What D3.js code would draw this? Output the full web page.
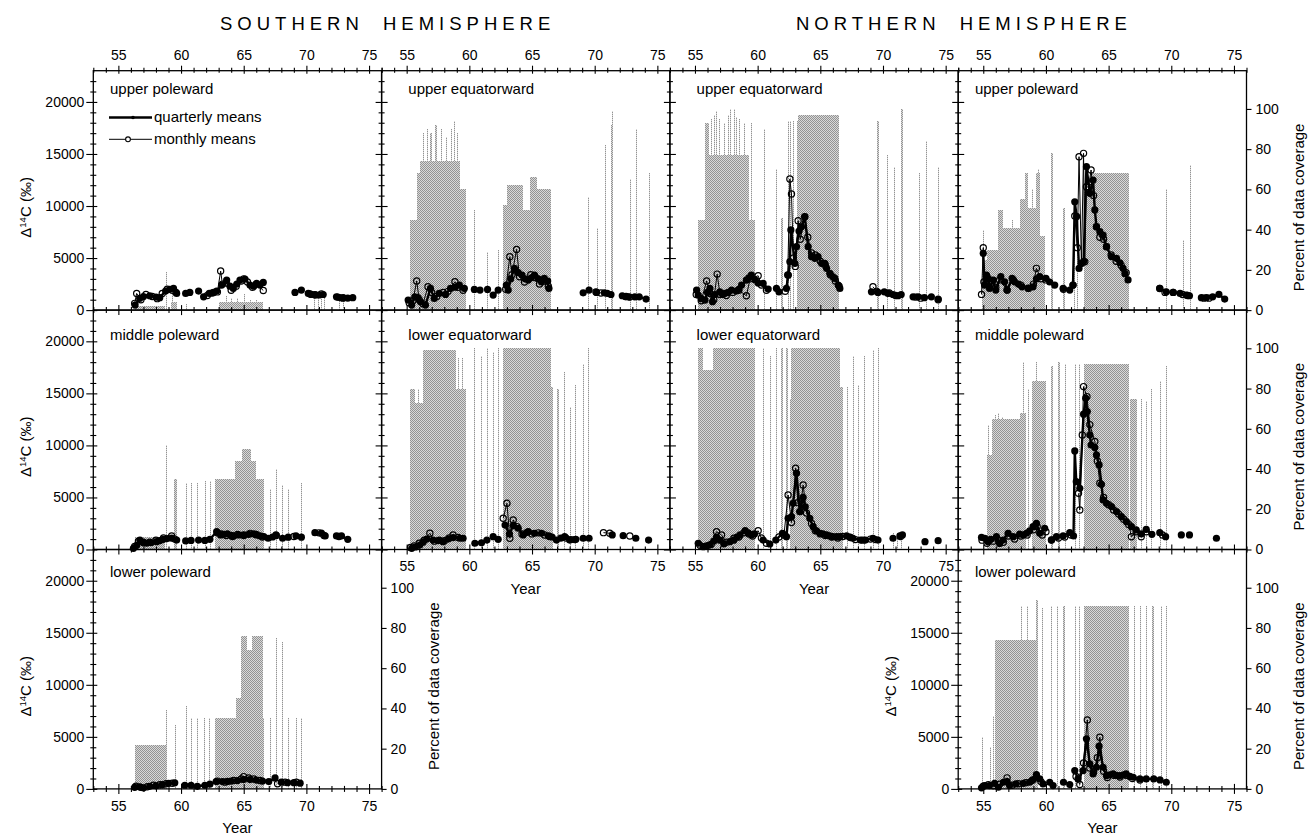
<!DOCTYPE html>
<html>
<head>
<meta charset="utf-8">
<script src="https://cdn.jsdelivr.net/npm/d3@7"></script>
<style>
  body { margin: 0; background: #fff; }
  svg text { font-family: "Liberation Sans", Arial, Helvetica, sans-serif; fill: #000; }
</style>
</head>
<body>
<svg id="chart" width="1308" height="835"></svg>
<script>
// ---- tick labels / text ----
const yearTicks = [55, 60, 65, 70, 75];
const valueTicks = [0, 5000, 10000, 15000, 20000];
const pctTicks = [0, 20, 40, 60, 80, 100];
const hemispheres = ['SOUTHERN HEMISPHERE', 'NORTHERN HEMISPHERE'];

// ---- data: [year, delta14C] (null = gap); coverage [from, to, %]; single months [year, %] ----
// SH upper poleward
const shUpPolQ = [[56.33,480],[56.7,1120],[57.0,1300],[57.5,1380],[58.0,1250],[58.3,1190],[58.77,1830],[59.1,2000],[59.4,2080],[59.65,1600],null,
  [60.37,1600],[60.7,1700],null,[61.4,1830],null,[61.8,1280],[62.25,1600],[62.6,1700],[62.84,1830],[63.24,2400],[63.64,2880],[63.9,2300],[64.17,2080],
  [64.45,2500],[64.7,2880],[65.1,2980],[65.5,2400],[65.8,2300],[66.03,2560],[66.3,2400],[66.56,2660],null,
  [69.09,1700],[69.6,1920],null,[70.15,1600],[70.4,1500],[70.68,1500],[71.0,1450],[71.34,1500],null,[72.4,1280],[72.65,1200],[72.94,1190],[73.3,1150],[73.7,1190]];
const shUpPolM = [[56.3,650],[56.46,1600],[56.8,1000],[57.2,1500],[57.7,1300],[58.1,1100],[58.5,1600],[58.9,2000],[59.3,1900],[59.6,1700],null,
  [62.1,1400],[62.5,1650],[62.9,1750],[63.16,3750],[63.3,2500],[63.6,2600],[64.0,1900],[64.4,2300],[64.8,2800],[65.0,3000],[65.3,2700],[65.7,2200],[66.0,2500],[66.56,1890],null,
  [70.3,1550],[70.7,1450],[71.2,1550],null,[72.5,1250],[72.9,1150]];
const shUpPolCov = [[56.3,58.7,2],[59.2,59.7,4],[63.0,66.5,4]];
const shUpPolSpk = [[58.8,19],[59.3,8],[60.4,3],[63.6,7],[64.0,6],[64.5,6],[65.0,8],[65.5,5],[66.0,5],[70.6,9],[70.9,9],[71.2,8],[71.4,9],[72.6,6],[72.9,6]];

// SH middle poleward
const shMidPolQ = [[56.2,115],[56.46,400],[56.72,910],[57.0,700],[57.26,600],[57.6,650],[58.05,750],[58.3,850],[58.58,980],[58.9,1050],[59.25,1100],[59.65,910],null,
  [60.37,820],[60.8,870],null,[61.4,910],[61.9,870],[62.3,980],[62.84,1710],[63.16,1400],[63.4,1450],[63.7,1500],[64.0,1350],[64.2,1300],[64.6,1400],[65.0,1400],
  [65.4,1450],[65.8,1500],[66.0,1400],[66.3,1300],[66.6,1250],[66.95,1080],[67.3,1200],[67.57,1400],null,[68.1,1080],[68.55,1180],null,[69.17,1300],[69.6,1180],null,
  [70.68,1620],[71.2,1570],[71.5,1300],null,[72.4,1300],[72.8,1300],[73.3,980]];
const shMidPolM = [[56.3,300],[56.6,800],[57.0,650],[57.5,700],[58.0,900],[58.6,1100],[59.25,1300],[59.5,1000],null,
  [62.9,1600],[63.2,1500],[63.6,1350],[64.1,1250],[64.5,1450],[65.0,1350],[65.5,1550],[66.0,1450],[66.5,1200],null,[67.6,1350],null,[69.0,1250],null,
  [71.0,1600],[71.4,1350],null,[72.6,1250]];
const shMidPolCov = [[56.3,58.7,6],[59.4,59.7,35],[62.7,64.3,35],[64.3,64.9,44],[64.9,65.6,50],[65.6,66.0,44],[66.0,66.6,35]];
const shMidPolSpk = [[58.8,52],[60.4,33],[60.8,33],[61.3,33],[61.9,34],[62.3,34],[67.1,30],[67.57,40],[68.05,32],[68.5,30],[69.6,33]];

// SH lower poleward
const shLowPolQ = [[56.3,150],[56.7,200],[57.0,100],[57.5,250],[58.0,300],[58.5,410],[59.0,540],[59.5,580],null,[60.3,350],[60.8,350],null,
  [61.3,250],[61.9,350],[62.3,450],[62.8,700],[63.3,700],[63.7,720],[64.0,750],[64.5,800],[65.0,900],[65.5,900],[66.0,850],[66.5,750],[67.0,700],[67.5,1050],null,
  [68.0,650],[68.5,600],null,[69.0,600],[69.5,550]];
const shLowPolM = [[56.4,250],[56.8,150],[57.3,200],[57.8,350],[58.3,400],[58.8,500],[59.3,550],null,
  [62.9,750],[63.5,650],[64.2,800],[64.8,950],[65.0,1180],[65.4,1050],[65.8,950],[66.3,800],null,[67.7,500],[68.3,650],null,[69.2,650]];
const shLowPolCov = [[56.3,58.8,22],[62.7,64.4,35],[64.4,64.8,45],[64.8,65.3,76],[65.3,65.7,69],[65.7,66.5,76],[66.5,66.6,35]];
const shLowPolSpk = [[58.8,39],[59.5,32],[60.4,41],[60.8,35],[61.3,35],[61.8,35],[62.2,35],[67.1,35],[67.55,75],[68.05,73],[68.5,35],[69.2,35],[69.6,35]];

// SH upper equatorward
const shUpEqQ = [[55.12,960],[55.4,480],[55.65,1280],[55.9,1200],[56.1,800],[56.5,480],[56.9,2080],[57.2,1120],[57.6,1600],[58.1,1500],[58.5,2080],[58.85,2200],
  [59.2,2400],[59.6,2080],null,[60.4,1990],[60.85,1920],null,[61.45,1990],null,[61.9,1440],[62.3,1920],null,[62.95,2400],[63.1,1920],[63.3,3000],[63.6,4000],
  [63.9,3600],[64.2,3370],[64.45,3000],[64.7,2880],[64.95,3100],[65.2,3370],[65.5,3000],[65.76,2720],[65.98,3040],[66.25,2790],[66.35,2080],null,
  [69.08,1660],[69.55,1920],null,[70.15,1700],null,[70.77,1660],[71.0,1600],[71.3,1500],null,[72.2,1380],[72.45,1300],[72.7,1280],[73.2,1280],[73.55,1280],[74.1,1060]];
const shUpEqM = [[55.2,700],[55.5,900],[55.8,2790],[56.0,1000],[56.3,600],[56.7,2240],[57.0,1700],[57.4,1300],[57.9,1700],[58.3,1800],[58.85,2720],[59.1,2200],[59.5,1900],null,
  [62.9,2000],[63.23,5130],[63.4,3400],[63.77,5830],[64.0,3200],[64.4,2700],[64.9,3400],[65.3,3100],[65.6,2500],[66.0,2800],[66.3,2300],null,
  [70.1,1750],[70.5,1650],null,[72.5,1300],[72.8,1250]];
const shUpEqCov = [[55.26,55.8,45],[55.8,56.05,68],[56.05,59.25,74],[59.25,59.7,60],[62.7,63.0,52],[63.0,64.3,62],[64.3,64.8,50],[64.8,65.4,66],[65.4,66.55,60]];
const shUpEqSpk = [[56.3,88],[56.6,90],[56.9,88],[57.3,92],[57.7,90],[58.1,86],[58.5,90],[58.77,94],[59.0,88],[60.4,50],[61.4,29],[62.3,30],
  [69.47,56],[70.2,41],[70.8,82],[71.3,92],[71.4,99],[72.8,65],[73.3,90],[74.3,68]];

// SH lower equatorward
const shLowEqQ = [[55.4,115],[55.7,250],[56.05,430],[56.3,700],[56.6,1000],[57.1,910],[57.5,850],[57.9,750],[58.3,1000],[58.7,1150],[59.25,1080],[59.5,1080],null,
  [60.44,600],[60.97,650],null,[61.4,910],null,[61.9,1230],[62.3,980],null,[62.85,2350],[63.2,1500],[63.5,2300],[63.9,2040],[64.3,1400],[64.7,1710],[65.2,1560],
  [65.76,1560],[66.3,1300],[66.6,1200],[66.95,910],[67.3,1100],[67.6,1230],[68.0,910],[68.5,980],null,[69.08,1080],[69.55,1080],null,[71.4,1400],null,
  [72.27,1330],null,[73.28,1080],null,[74.3,910]];
const shLowEqM = [[55.3,200],[55.6,350],[56.0,600],[56.4,900],[56.85,1560],[57.2,800],[57.6,900],[58.0,850],[58.4,1100],[58.7,1400],[59.1,1150],null,
  [62.7,3000],[63.0,4440],[63.23,1080],[63.5,2840],[63.8,2200],[64.2,1500],[64.6,1650],[65.0,1500],[65.5,1600],[66.0,1400],[66.4,1250],null,
  [67.7,1100],[68.1,950],[68.4,950],null,[70.7,1620],[71.2,1560],null,[72.8,1300]];
const shLowEqCov = [[55.26,55.65,80],[55.65,56.3,73],[56.3,58.9,99],[58.9,59.7,80],[62.7,66.55,100],[66.55,66.7,81]];
const shLowEqSpk = [[55.9,80],[59.1,95],[59.4,95],[60.4,100],[60.9,96],[61.4,100],[61.9,98],[62.3,100],[67.03,80],[67.56,88],[68.0,71],[68.45,82],[69.04,92],[69.5,100]];

// NH upper equatorward
const nhUpEqQ = [[55.13,1920],[55.26,1440],[55.5,1100],[55.8,960],[56.0,1700],[56.19,2080],[56.4,800],[56.6,1500],[56.98,1760],[57.2,1500],[57.39,1600],[57.65,1700],
  [57.92,1920],[58.3,1830],[58.5,2000],[58.72,2400],[59.1,2880],[59.3,3100],[59.5,3370],[59.8,2900],[60.04,2600],[60.44,2560],[60.84,2020],null,
  [61.5,2080],[61.7,1760],null,[62.3,2080],[62.45,3370],[62.57,4650],[62.65,7700],[62.97,4490],[63.1,6090],[63.3,7600],[63.5,8000],[63.76,8970],[64.03,6090],
  [64.3,5130],[64.56,4970],[64.82,5130],[65.1,4490],[65.36,4490],[65.5,4010],[65.76,3530],[66.0,3200],[66.16,3050],[66.43,2400],[66.56,2080],null,
  [69.08,1760],[69.6,1700],null,[70.1,1760],[70.4,1600],[70.8,1500],[71.2,1380],[71.45,1500],null,[72.4,1280],[72.8,1280],[73.3,1190],[73.86,1280],null,[74.4,1060]];
const nhUpEqM = [[55.1,1500],[55.5,900],[55.93,2790],[56.2,1600],[56.5,1000],[56.77,3460],[57.0,1500],[57.5,1400],[58.0,1700],[58.5,1900],[59.1,1380],[59.4,3000],
  [60.04,3300],[60.3,2400],[60.7,1900],null,[62.2,1800],[62.4,3370],[62.57,12600],[62.7,11150],[62.85,5000],[63.0,4200],[63.23,8590],[63.4,6800],[63.76,8970],
  [64.0,7000],[64.3,5500],[64.6,5300],[65.0,4700],[65.4,4300],[65.8,3400],[66.2,2800],[66.5,2300],null,[69.2,2240],[69.5,1800],null,
  [70.5,1650],[71.0,1400],null,[72.6,1250],[73.0,1150],null,[74.4,1000]];
const nhUpEqCov = [[55.26,55.8,45],[55.8,56.1,93],[56.1,59.3,77],[59.3,59.75,45],[63.2,66.5,97]];
const nhUpEqSpk = [[56.3,95],[56.5,97],[56.7,99],[56.9,95],[57.3,93],[57.6,97],[57.8,100],[58.1,100],[58.3,96],[58.5,95],[58.9,93],[59.5,93],[60.52,90],[61.5,70],
  [61.9,46],[62.4,94],[62.6,94],[62.8,94],[63.1,94],[69.56,94],[70.3,77],[70.9,71],[71.45,100],[71.55,100],[72.9,68],[73.4,84],[74.4,71]];

// NH lower equatorward
const nhLowEqQ = [[55.26,600],[55.66,270],[56.0,380],[56.19,430],[56.5,800],[56.72,1200],[57.0,900],[57.3,540],[57.78,750],[58.1,900],[58.35,1200],[58.6,1400],
  [59.0,1810],[59.25,1600],[59.5,1400],[59.75,1500],null,[60.44,910],[60.97,530],null,[61.45,910],[61.98,1560],[62.3,1230],[62.43,3000],[62.7,3150],[62.83,4440],
  [63.1,7330],[63.37,3640],[63.63,5000],[63.8,4100],[64.16,3000],[64.43,2190],[64.7,1800],[64.96,1560],[65.2,1500],[65.5,1400],[65.75,1300],[66.0,1230],
  [66.3,1230],[66.56,1230],[67.1,1300],[67.35,1200],[67.6,1080],[68.2,910],[68.6,910],[69.2,1080],[69.6,910],null,[70.8,1080],null,[71.35,1300],[71.55,1400],null,
  [73.35,750],null,[74.4,850]];
const nhLowEqM = [[55.4,400],[55.8,300],[56.3,500],[56.72,1710],[57.12,1400],[57.5,700],[58.1,1080],[58.5,1200],[58.9,1600],[59.3,1500],[59.6,1300],[60.04,1810],
  [60.3,1100],[60.7,600],null,[61.7,1200],[62.1,1400],[62.43,5240],[62.7,2600],[63.03,7800],[63.2,4500],[63.37,3640],[63.63,6200],[63.9,3500],[64.3,2500],
  [64.6,1800],[65.0,1500],[65.4,1350],[65.9,1200],[66.4,1100],[66.8,1250],[67.4,1150],[67.8,950],[68.4,900],[69.0,1000],[69.4,950],null,[71.4,1250]];
const nhLowEqCov = [[55.26,55.66,100],[55.66,56.45,89],[56.45,59.8,100],[62.7,66.6,100],[66.6,66.8,81]];
const nhLowEqSpk = [[60.44,100],[61.0,96],[61.5,100],[61.9,100],[62.3,100],[62.6,75],[67.1,81],[67.6,96],[68.0,82],[68.5,96],[69.2,99],[69.6,100],
  [70.8,8],[71.1,8],[71.4,8]];

// NH upper poleward
const nhUpPolQ = [[55.0,5450],[55.1,2400],[55.26,3370],[55.4,3050],[55.5,2080],[55.8,2880],[56.0,1920],[56.4,3210],[56.7,2720],[56.9,1920],[57.3,3050],[57.5,2720],
  [57.8,2500],[58.1,2240],[58.6,2080],[58.97,2240],[59.24,3000],[59.5,3210],[60.0,3050],[60.3,2700],[60.7,2400],null,[61.37,2080],[61.9,1920],null,
  [62.16,2400],[62.3,10410],[62.45,9000],[62.64,4000],[62.83,4490],[63.0,4650],[63.23,13780],[63.5,11220],[63.76,12500],[63.9,9620],[64.03,8010],[64.3,7530],
  [64.56,7210],[64.83,6090],[65.23,5130],[65.63,4970],[65.9,4550],[66.15,4010],[66.3,3500],[66.55,2900],null,[69.08,2080],[69.6,1760],null,
  [70.15,1700],[70.7,1600],[71.2,1440],[71.45,1380],null,[72.4,1190],[72.8,1190],[73.3,1280],[73.8,1510],[74.26,1060]];
const nhUpPolM = [[54.86,1510],[55.0,6000],[55.05,2700],[55.3,3000],[55.6,2500],[56.0,2200],[56.3,2900],[56.9,1920],[57.4,2900],[58.0,2400],[58.6,2100],[59.0,2500],
  [59.24,4010],[59.6,3000],[60.0,2900],null,[61.4,2000],null,[62.16,2400],[62.3,9040],[62.5,6000],[62.64,14740],[62.83,4490],[63.0,15060],[63.1,4650],
  [63.23,11860],[63.4,11800],[63.6,13460],[63.8,11000],[64.03,8010],[64.3,7000],[64.6,6800],[64.83,6090],[65.2,5300],[65.6,4700],[66.0,4300],[66.4,3600],null,
  [69.08,2080],[69.5,1700],[70.15,1700],null,[70.9,1500],[71.3,1400],null,[72.6,1150],[73.0,1150]];
const nhUpPolCov = [[54.86,55.26,25],[55.26,56.2,30],[56.2,56.6,50],[56.6,57.9,41],[57.9,58.3,55],[58.3,58.6,68],[58.6,59.2,51],[59.2,59.5,68],[59.5,59.9,37],
  [63.0,63.5,60],[63.5,66.63,68]];
const nhUpPolSpk = [[55.0,40],[56.3,50],[57.3,45],[58.9,60],[59.4,70],[60.44,78],[61.4,51],[62.2,46],[62.5,46],[69.6,60],[70.9,35],[71.5,72]];

// NH middle poleward
const nhMidPolQ = [[54.86,1170],[55.12,1080],[55.38,750],[55.6,980],[56.05,1230],[56.3,580],[56.58,910],[56.98,1560],[57.38,1230],[57.9,1490],[58.2,1400],
  [58.45,1560],[58.7,1800],[58.97,2190],[59.24,2520],[59.5,1560],[59.9,2040],null,[60.44,910],[60.84,1230],null,[61.37,1300],[61.9,1620],[62.2,1300],
  [62.3,9470],[62.42,6520],[62.7,5880],[63.0,13000],[63.17,14540],[63.3,13250],[63.5,11000],[63.6,10040],[63.9,9800],[64.03,9090],[64.24,8130],[64.43,6270],
  [64.56,4760],[64.83,4440],[65.23,4120],[65.63,3640],[66.02,3150],[66.42,2670],[66.82,2190],[67.2,1880],[67.6,1500],[68.0,1940],[68.45,1460],null,
  [69.08,1620],[69.55,1230],null,[70.8,1400],null,[71.45,1400],null,[73.6,1080]];
const nhMidPolM = [[54.9,900],[55.3,600],[55.8,800],[56.2,900],[56.6,700],[57.0,1300],[57.5,1000],[58.0,1300],[58.5,1400],[59.0,1900],[59.3,2200],[59.7,1400],
  [60.0,1700],null,[60.44,910],[61.0,1100],[61.5,1200],[62.0,1400],null,[62.6,5400],[62.7,3800],[62.9,11000],[63.0,15650],[63.27,14690],[63.5,12000],
  [63.9,10370],[64.1,8500],[64.3,6370],[64.6,5000],[65.0,4300],[65.4,3800],[65.8,3400],[66.2,2900],[66.6,2400],[66.82,1230],[67.2,1700],[67.6,1230],
  [68.0,1700],null,[69.3,1400]];
const nhMidPolCov = [[55.26,55.7,47],[55.7,57.9,65],[57.9,58.4,68],[58.9,60.0,84],[63.0,66.6,92],[66.7,67.3,75]];
const nhMidPolSpk = [[55.4,62],[55.9,67],[56.2,68],[56.5,66],[58.2,93],[58.6,80],[59.2,93],[60.44,91],[61.0,93],[61.5,92],[62.3,92],[62.6,92],
  [67.6,75],[68.0,74],[68.4,80],[69.1,84],[69.6,91]];

// NH lower poleward
const nhLowPolQ = [[54.86,100],[55.12,320],[55.5,320],[55.9,540],[56.2,160],[56.6,640],[56.9,700],[57.1,320],[57.6,480],[58.2,540],[58.7,640],[59.0,900],
  [59.24,1380],[59.5,960],[59.77,480],null,[60.3,640],[60.57,320],null,[61.4,640],null,[61.9,420],null,[62.3,1760],[62.56,960],[62.96,1760],[63.23,4810],
  [63.5,2400],[63.76,1440],[64.03,2080],[64.24,4100],[64.56,2080],[64.83,1280],[65.1,1350],[65.36,1440],[65.6,1300],[65.9,1280],[66.2,1350],[66.4,1440],
  [66.7,1200],[66.96,1120],[67.5,960],[68.0,960],[68.6,960],null,[69.1,860],[69.6,640]];
const nhLowPolM = [[55.0,250],[55.4,400],[55.8,300],[56.3,450],[56.9,1060],[57.3,350],[57.8,500],[58.4,600],[58.9,800],[59.24,1200],[59.6,700],null,
  [62.4,1200],[62.7,420],[63.0,2500],[63.3,6630],[63.5,2000],[63.8,1600],[64.1,3000],[64.3,4970],[64.6,1700],[64.9,1100],[65.4,1300],[65.9,1150],
  [66.4,1300],[66.9,1000],[67.5,850]];
const nhLowPolCov = [[55.9,59.2,74],[59.2,59.35,94],[63.0,66.6,91]];
const nhLowPolSpk = [[54.86,26],[55.5,21],[55.8,36],[58.0,91],[58.5,91],[59.7,90],[60.4,91],[60.9,91],[61.4,91],[62.3,91],[62.6,91],
  [67.0,91],[67.5,91],[68.0,91],[68.5,91],[69.2,91],[69.6,91]];

// ---- layout ----
const left0 = 93.3, top0 = 70.7, pw = 288.3, ph = 239.4;
const titleDy = [23.5, 29.5, 27];

const panels = [
  { col: 0, row: 0, title: 'upper poleward', q: shUpPolQ, m: shUpPolM, cov: shUpPolCov, spk: shUpPolSpk },
  { col: 0, row: 1, title: 'middle poleward', q: shMidPolQ, m: shMidPolM, cov: shMidPolCov, spk: shMidPolSpk },
  { col: 0, row: 2, title: 'lower poleward', q: shLowPolQ, m: shLowPolM, cov: shLowPolCov, spk: shLowPolSpk },
  { col: 1, row: 0, title: 'upper equatorward', q: shUpEqQ, m: shUpEqM, cov: shUpEqCov, spk: shUpEqSpk },
  { col: 1, row: 1, title: 'lower equatorward', q: shLowEqQ, m: shLowEqM, cov: shLowEqCov, spk: shLowEqSpk },
  { col: 2, row: 0, title: 'upper equatorward', q: nhUpEqQ, m: nhUpEqM, cov: nhUpEqCov, spk: nhUpEqSpk },
  { col: 2, row: 1, title: 'lower equatorward', q: nhLowEqQ, m: nhLowEqM, cov: nhLowEqCov, spk: nhLowEqSpk },
  { col: 3, row: 0, title: 'upper poleward', q: nhUpPolQ, m: nhUpPolM, cov: nhUpPolCov, spk: nhUpPolSpk },
  { col: 3, row: 1, title: 'middle poleward', q: nhMidPolQ, m: nhMidPolM, cov: nhMidPolCov, spk: nhMidPolSpk },
  { col: 3, row: 2, title: 'lower poleward', q: nhLowPolQ, m: nhLowPolM, cov: nhLowPolCov, spk: nhLowPolSpk },
];

const svg = d3.select('#chart');

// halftone fill for the coverage bars
const pat = svg.append('defs').append('pattern')
  .attr('id', 'ht').attr('patternUnits', 'userSpaceOnUse')
  .attr('width', 2).attr('height', 2);
pat.append('rect').attr('width', 2).attr('height', 2).attr('fill', '#d9d9d9');
pat.append('rect').attr('width', 1).attr('height', 1).attr('fill', '#939393');
pat.append('rect').attr('x', 1).attr('y', 1).attr('width', 1).attr('height', 1).attr('fill', '#939393');

// hemisphere headers
svg.selectAll('text.hemi')
  .data(hemispheres)
  .enter()
  .append('text')
  .attr('class', 'hemi')
  .attr('x', (d, i) => [220, 796][i])
  .attr('y', 29.5)
  .style('font-size', '18.5px')
  .style('letter-spacing', '5px')
  .style('word-spacing', '9px')
  .text(d => d);

const major = d => d % 5 === 0;

panels.forEach(p => {
  const x0 = left0 + p.col * pw;
  const y0 = top0 + p.row * ph;
  const x = d3.scaleLinear().domain([53, 76]).range([x0, x0 + pw]);
  const y = d3.scaleLinear().domain([0, 23000]).range([y0 + ph, y0]);
  const yp = d3.scaleLinear().domain([0, 119]).range([y0 + ph, y0]);
  const g = svg.append('g');

  // coverage blocks and single months
  g.selectAll('rect.cov')
    .data(p.cov)
    .enter()
    .append('rect')
    .attr('class', 'cov')
    .attr('x', d => x(d[0]))
    .attr('width', d => x(d[1]) - x(d[0]))
    .attr('y', d => yp(d[2]))
    .attr('height', d => yp(0) - yp(d[2]))
    .attr('fill', 'url(#ht)')
    .attr('shape-rendering', 'crispEdges');

  g.selectAll('rect.spk')
    .data(p.spk)
    .enter()
    .append('rect')
    .attr('class', 'spk')
    .attr('x', d => x(d[0]))
    .attr('width', d => Math.max(1, x(d[0] + 1 / 12) - x(d[0])))
    .attr('y', d => yp(d[1]))
    .attr('height', d => yp(0) - yp(d[1]))
    .attr('fill', 'url(#ht)')
    .attr('shape-rendering', 'crispEdges');

  const line = d3.line()
    .defined(d => d !== null)
    .x(d => x(d[0]))
    .y(d => y(d[1]));

  g.append('path').datum(p.q)
    .attr('d', line).attr('fill', 'none')
    .attr('stroke', '#000').attr('stroke-width', 2.4).attr('stroke-linejoin', 'round');
  g.append('path').datum(p.m)
    .attr('d', line).attr('fill', 'none')
    .attr('stroke', '#000').attr('stroke-width', 1);

  g.selectAll('circle.q')
    .data(p.q.filter(d => d))
    .enter()
    .append('circle')
    .attr('class', 'q')
    .attr('cx', d => x(d[0])).attr('cy', d => y(d[1]))
    .attr('r', 3.6).attr('fill', '#000');

  g.selectAll('circle.m')
    .data(p.m.filter(d => d))
    .enter()
    .append('circle')
    .attr('class', 'm')
    .attr('cx', d => x(d[0])).attr('cy', d => y(d[1]))
    .attr('r', 3.1).attr('fill', 'none')
    .attr('stroke', '#000').attr('stroke-width', 1.2);

  // frame
  g.append('rect')
    .attr('x', x0).attr('y', y0).attr('width', pw).attr('height', ph)
    .attr('fill', 'none').attr('stroke', '#000').attr('stroke-width', 1.3);

  const outerLeft = p.col === 0 || (p.col === 3 && p.row === 2);
  const outerRight = p.col === 3 || (p.col === 0 && p.row === 2);
  const bottomLabels = (p.row === 1 && (p.col === 1 || p.col === 2)) || p.row === 2;

  // bottom year ticks
  const bx = g.append('g')
    .attr('transform', `translate(0,${y0 + ph})`)
    .call(d3.axisBottom(x).tickValues(d3.range(53, 77)).tickSize(3).tickPadding(9)
      .tickFormat(d => (bottomLabels && major(d) && d >= 55) ? d : ''));
  bx.select('.domain').remove();
  bx.selectAll('.tick line')
    .attr('y1', d => major(d) ? -5 : -3)
    .attr('y2', d => major(d) ? 5 : 3)
    .attr('stroke-width', 1.1);
  bx.selectAll('.tick text').style('font-size', '14px');

  if (bottomLabels) {
    g.append('text')
      .attr('x', x0 + pw / 2).attr('y', y0 + ph + 44)
      .attr('text-anchor', 'middle').style('font-size', '15px')
      .text('Year');
  }

  // top year ticks on the first row
  if (p.row === 0) {
    const tx = g.append('g')
      .attr('transform', `translate(0,${y0})`)
      .call(d3.axisTop(x).tickValues(d3.range(53, 77)).tickSize(3).tickPadding(8)
        .tickFormat(d => (major(d) && d >= 55) ? d : ''));
    tx.select('.domain').remove();
    tx.selectAll('.tick line')
      .attr('y1', d => major(d) ? 3 : 2)
      .attr('y2', d => major(d) ? -5 : -3)
      .attr('stroke-width', 1.1);
    tx.selectAll('.tick text').style('font-size', '14px');
  }

  // left value ticks
  const lx = g.append('g')
    .attr('transform', `translate(${x0},0)`)
    .call(d3.axisLeft(y).tickValues(d3.range(0, 23000, 1000)).tickSize(7).tickPadding(2)
      .tickFormat(d => (outerLeft && valueTicks.includes(d)) ? d : ''));
  lx.select('.domain').remove();
  lx.selectAll('.tick line')
    .attr('x1', d => valueTicks.includes(d) ? (outerLeft ? 4 : 6) : 3)
    .attr('x2', d => valueTicks.includes(d) ? (outerLeft ? -7 : -6) : -3)
    .attr('stroke-width', 1.1);
  lx.selectAll('.tick text').style('font-size', '14px');

  if (outerLeft) {
    const cy = y0 + ph / 2 + 17;
    const lab = g.append('text')
      .attr('transform', `translate(${x0 - 62},${cy}) rotate(-90)`)
      .attr('text-anchor', 'middle')
      .style('font-size', '15px');
    lab.append('tspan').text('Δ');
    lab.append('tspan').attr('dy', -5).style('font-size', '9.5px').text('14');
    lab.append('tspan').attr('dy', 5).text('C (‰)');
  }

  // right coverage axis
  if (outerRight) {
    const rx = g.append('g')
      .attr('transform', `translate(${x0 + pw},0)`)
      .call(d3.axisRight(yp).tickValues(pctTicks).tickSize(5).tickPadding(4));
    rx.select('.domain').remove();
    rx.selectAll('.tick line').attr('stroke-width', 1.1);
    rx.selectAll('.tick text').style('font-size', '14px');

    g.append('text')
      .attr('transform', `translate(${x0 + pw + 57},${y0 + ph / 2 + 17}) rotate(-90)`)
      .attr('text-anchor', 'middle')
      .style('font-size', '15px')
      .text('Percent of data coverage');
  }

  // panel title
  g.append('text')
    .attr('x', x0 + (p.title.includes('equatorward') ? 26.7 : 16.7))
    .attr('y', y0 + titleDy[p.row])
    .style('font-size', '15px')
    .text(p.title);
});

// legend in the first panel
const legend = svg.append('g').attr('transform', 'translate(109,0)');
legend.append('line').attr('x1', 0).attr('x2', 43).attr('y1', 117.5).attr('y2', 117.5)
  .attr('stroke', '#000').attr('stroke-width', 2.4);
legend.append('circle').attr('cx', 24).attr('cy', 117.5).attr('r', 1.8).attr('fill', '#000');
legend.append('line').attr('x1', 0).attr('x2', 43).attr('y1', 139.3).attr('y2', 139.3)
  .attr('stroke', '#000').attr('stroke-width', 1);
legend.append('circle').attr('cx', 19).attr('cy', 139.3).attr('r', 2.4)
  .attr('fill', '#fff').attr('stroke', '#000').attr('stroke-width', 1.1);
legend.append('text').attr('x', 45).attr('y', 122).style('font-size', '15px').text('quarterly means');
legend.append('text').attr('x', 45).attr('y', 143.5).style('font-size', '15px').text('monthly means');
</script>
</body>
</html>
